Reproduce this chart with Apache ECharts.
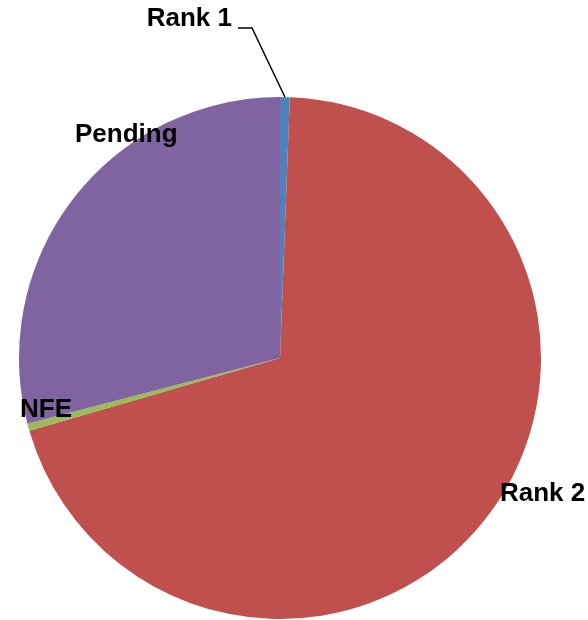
<!DOCTYPE html>
<html><head><meta charset="utf-8">
<script src="https://cdn.jsdelivr.net/npm/echarts@6/dist/echarts.min.js"></script>
<style>html,body{margin:0;padding:0;background:#fff}#c{width:588px;height:620px}</style>
</head><body><div id="c"></div>
<script>
var categories = ['Rank 1', 'Rank 2', 'NFE', 'Pending'];
var values = [0.6, 69.9, 0.45, 29.05];
var colors = ['#4F81BD', '#C0504D', '#9BBB59', '#8064A2'];
// label anchor spots (text placement only)
var labelSpots = {
  'Rank 1': {x: 232, y: 19, align: 'right'},
  'Rank 2': {x: 500, y: 494, align: 'left'},
  'NFE': {x: 20, y: 410, align: 'left'},
  'Pending': {x: 75, y: 135, align: 'left'}
};
var data = categories.map(function (c, i) {
  return {name: c, value: values[i], itemStyle: {color: colors[i]},
          labelLine: {show: i === 0}};
});
var chart = echarts.init(document.getElementById('c'), null, {renderer: 'canvas'});
chart.setOption({
  animation: false,
  series: [{
    type: 'pie',
    center: [280, 358],
    radius: 261,
    startAngle: 90,
    clockwise: true,
    avoidLabelOverlap: false,
    data: data,
    itemStyle: {borderWidth: 0},
    label: {
      show: true, position: 'outside', formatter: '{b}',
      fontFamily: 'Liberation Sans, Arial, sans-serif', fontWeight: 'bold',
      fontSize: 26, color: '#000'
    },
    labelLine: {show: true, length: 10, length2: 10, lineStyle: {color: '#000', width: 1.5}},
    labelLayout: function (p) {
      var name = categories[p.dataIndex];
      var s = labelSpots[name];
      var out = {x: s.x, y: s.y, align: s.align, verticalAlign: 'middle'};
      if (name === 'Rank 1' && p.labelLinePoints) {
        var e = p.labelLinePoints[0];
        out.labelLinePoints = [[e[0], e[1]], [252, 28], [238, 28]];
      }
      return out;
    }
  }]
});
</script></body></html>
